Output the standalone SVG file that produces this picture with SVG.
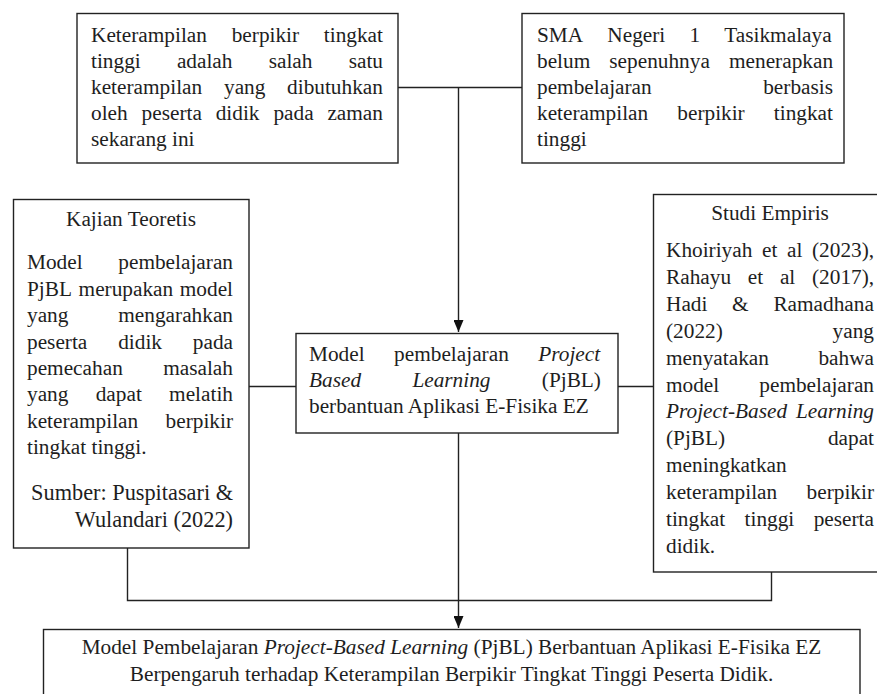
<svg xmlns="http://www.w3.org/2000/svg" width="877" height="694" viewBox="0 0 877 694">
<style>
  .box { fill: #ffffff; stroke: #222222; stroke-width: 1.4; }
  .t { font-family: "Liberation Serif", "Times New Roman", serif; font-size: 21.3px; fill: #1e1e1e; }
  .big { font-size: 22.3px; }
  .i { font-style: italic; }
  .c { text-anchor: middle; }
  .e { text-anchor: end; }
  .ln { fill: none; stroke: #222222; stroke-width: 1.4; }
</style>
<defs>
  <marker id="arr" markerUnits="userSpaceOnUse" markerWidth="12" markerHeight="10" refX="12" refY="5" orient="auto">
    <path d="M0,0 L12,5 L0,10 z" fill="#111111"/>
  </marker>
</defs>
<rect width="877" height="694" fill="#ffffff"/>

<g id="connectors">
  <path class="ln" d="M398,87.5 H522"/>
  <path class="ln" d="M458.5,87.5 V332" marker-end="url(#arr)"/>
  <path class="ln" d="M249,386.5 H296"/>
  <path class="ln" d="M618,386.5 H653"/>
  <path class="ln" d="M458.5,433 V628" marker-end="url(#arr)"/>
  <path class="ln" d="M127.5,548 V600.5 H771.5 V572"/>
</g>

<g id="node-top-left">
  <rect class="box" x="77" y="13.5" width="321" height="149.5"/>
  <text class="t" y="41.5"><tspan x="91">Keterampilan</tspan><tspan x="231.7">berpikir</tspan><tspan x="323.8">tingkat</tspan></text>
  <text class="t" y="67.7"><tspan x="91">tinggi</tspan><tspan x="176.9">adalah</tspan><tspan x="268.7">salah</tspan><tspan x="348.7">satu</tspan></text>
  <text class="t" y="93.9"><tspan x="91">keterampilan</tspan><tspan x="224">yang</tspan><tspan x="287.1">dibutuhkan</tspan></text>
  <text class="t" y="120.1"><tspan x="91">oleh</tspan><tspan x="141.6">peserta</tspan><tspan x="215.7">didik</tspan><tspan x="273.4">pada</tspan><tspan x="327.4">zaman</tspan></text>
  <text class="t" x="91" y="146.3">sekarang ini</text>
</g>

<g id="node-top-right">
  <rect class="box" x="522" y="13.5" width="322" height="149.5"/>
  <text class="t" y="41.5"><tspan x="537">SMA</tspan><tspan x="607.3">Negeri</tspan><tspan x="689.5">1</tspan><tspan x="724.3">Tasikmalaya</tspan></text>
  <text class="t" y="67.7"><tspan x="537">belum</tspan><tspan x="609.3">sepenuhnya</tspan><tspan x="729">menerapkan</tspan></text>
  <text class="t" y="93.9"><tspan x="537">pembelajaran</tspan><tspan x="763.2">berbasis</tspan></text>
  <text class="t" y="120.1"><tspan x="537">keterampilan</tspan><tspan x="677.3">berpikir</tspan><tspan x="773.8">tingkat</tspan></text>
  <text class="t" x="537" y="146.3">tinggi</text>
</g>

<g id="node-kajian-teoretis">
  <rect class="box" x="13.5" y="199.5" width="235.5" height="348.5"/>
  <text class="t c" x="131" y="226">Kajian Teoretis</text>
  <text class="t" y="269.3"><tspan x="27">Model</tspan><tspan x="118.3">pembelajaran</tspan></text>
  <text class="t" y="295.7"><tspan x="27">PjBL</tspan><tspan x="78.6">merupakan</tspan><tspan x="179.8">model</tspan></text>
  <text class="t" y="322.1"><tspan x="27">yang</tspan><tspan x="118.3">mengarahkan</tspan></text>
  <text class="t" y="348.5"><tspan x="27">peserta</tspan><tspan x="118.2">didik</tspan><tspan x="192.8">pada</tspan></text>
  <text class="t" y="374.9"><tspan x="27">pemecahan</tspan><tspan x="163.2">masalah</tspan></text>
  <text class="t" y="401.3"><tspan x="27">yang</tspan><tspan x="95.7">dapat</tspan><tspan x="169.1">melatih</tspan></text>
  <text class="t" y="427.7"><tspan x="27">keterampilan</tspan><tspan x="165.6">berpikir</tspan></text>
  <text class="t" x="27" y="454.1">tingkat tinggi.</text>
  <text class="t big e" x="233" y="500">Sumber: Puspitasari &amp;</text>
  <text class="t big e" x="233" y="526.5">Wulandari (2022)</text>
</g>

<g id="node-studi-empiris">
  <rect class="box" x="653.5" y="194.5" width="240" height="377.5"/>
  <text class="t c" x="770" y="220">Studi Empiris</text>
  <text class="t" y="257"><tspan x="666">Khoiriyah</tspan><tspan x="762">et</tspan><tspan x="787">al</tspan><tspan x="812">(2023),</tspan></text>
  <text class="t" y="283.9"><tspan x="666">Rahayu</tspan><tspan x="747.8">et</tspan><tspan x="779.9">al</tspan><tspan x="812">(2017),</tspan></text>
  <text class="t" y="310.8"><tspan x="666">Hadi</tspan><tspan x="732.1">&amp;</tspan><tspan x="773.4">Ramadhana</tspan></text>
  <text class="t" y="337.7"><tspan x="666">(2022)</tspan><tspan x="832.6">yang</tspan></text>
  <text class="t" y="364.6"><tspan x="666">menyatakan</tspan><tspan x="818.4">bahwa</tspan></text>
  <text class="t" y="391.5"><tspan x="666">model</tspan><tspan x="759.3">pembelajaran</tspan></text>
  <text class="t i" y="418.4"><tspan x="666">Project-Based</tspan><tspan x="795.9">Learning</tspan></text>
  <text class="t" y="445.3"><tspan x="666">(PjBL)</tspan><tspan x="827.9">dapat</tspan></text>
  <text class="t" x="666" y="472.2">meningkatkan</text>
  <text class="t" y="499.1"><tspan x="666">keterampilan</tspan><tspan x="806.6">berpikir</tspan></text>
  <text class="t" y="526"><tspan x="666">tingkat</tspan><tspan x="744.6">tinggi</tspan><tspan x="813.7">peserta</tspan></text>
  <text class="t" x="666" y="552.9">didik.</text>
</g>

<g id="node-model-pjbl">
  <rect class="box" x="296" y="333.5" width="322" height="99.5"/>
  <text class="t" y="361"><tspan x="309">Model</tspan><tspan x="394.1">pembelajaran</tspan><tspan x="538.3" class="i">Project</tspan></text>
  <text class="t" y="387"><tspan x="309" class="i">Based</tspan><tspan x="412.4" class="i">Learning</tspan><tspan x="541.8">(PjBL)</tspan></text>
  <text class="t" x="309" y="413">berbantuan Aplikasi E-Fisika EZ</text>
</g>

<g id="node-conclusion">
  <rect class="box" x="43.5" y="629.5" width="816.5" height="80"/>
  <text class="t c" x="451.5" y="654">Model Pembelajaran <tspan class="i">Project-Based Learning</tspan> (PjBL) Berbantuan Aplikasi E-Fisika EZ</text>
  <text class="t c" x="451.5" y="681">Berpengaruh terhadap Keterampilan Berpikir Tingkat Tinggi Peserta Didik.</text>
</g>
</svg>
